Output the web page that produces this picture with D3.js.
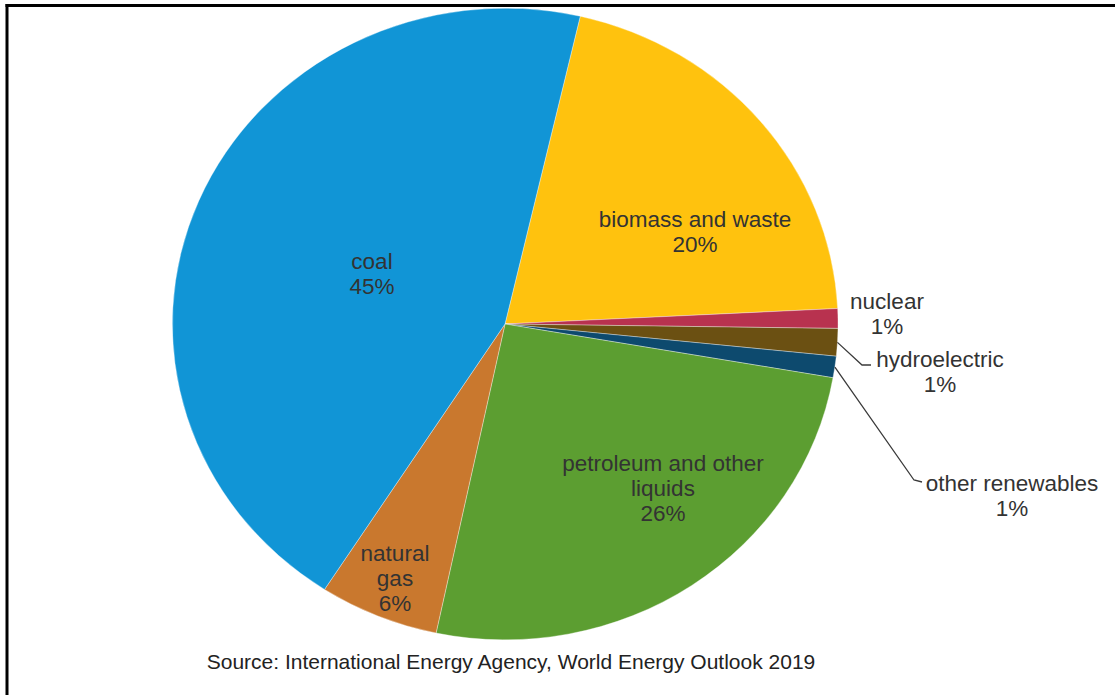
<!DOCTYPE html>
<html><head><meta charset="utf-8">
<script src="https://cdn.jsdelivr.net/npm/d3@7"></script>
<style>html,body{margin:0;padding:0;background:#fff;}svg{display:block;}</style>
</head><body>
<svg id="chart" width="1115" height="695"></svg>
<script>
// ---- data ----
const categories = ["biomass and waste","nuclear","hydroelectric","other renewables","petroleum and other liquids","natural gas","coal"];
const shares = [20.6, 1.0, 1.4, 1.1, 25.6, 5.8, 44.5];
const percentLabels = ["20%","1%","1%","1%","26%","6%","45%"];
const labelLines = [["biomass and waste"],["nuclear"],["hydroelectric"],["other renewables"],["petroleum and other","liquids"],["natural","gas"],["coal"]];
const colors = ["#FFC20E","#B8324F","#6B5012","#0D4A6E","#5C9E31","#C9782E","#1195D6"];
const sourceText = "Source: International Energy Agency,  World Energy Outlook 2019";

// ---- layout (not data) ----
const W = 1115, H = 695;
const cx = 505, cy = 324, rx = 333, ry = 316;
const startDeg = 13.05;
// label centers relative to pie center (pixels), and leader elbows for outside labels
const labelLayout = [
  {dx: 190, dy: -92},
  {dx: 382, dy: -10},
  {dx: 435, dy: 48},
  {dx: 507, dy: 172},
  {dx: 158, dy: 164},
  {dx: -110, dy: 254},
  {dx: -133, dy: -50}
];
const leaders = {2: [[862, 365],[871, 365]], 3: [[914, 480],[922, 482]]};
const lineGap = 25;
const fontFamily = "'Liberation Sans', Arial, sans-serif";

const svg = d3.select("#chart");

const pie = d3.pie().sort(null).value(d => d)
  .startAngle(startDeg * Math.PI/180).endAngle(startDeg * Math.PI/180 + 2*Math.PI);
const arcs = pie(shares);
const arc = d3.arc().innerRadius(0).outerRadius(1);

const g = svg.append("g").attr("transform", `translate(${cx},${cy}) scale(${rx},${ry})`);
g.selectAll("path").data(arcs).join("path")
  .attr("d", arc)
  .attr("fill", (d,i) => colors[i])
  .attr("stroke", "#fff")
  .attr("stroke-opacity", 0.5)
  .attr("stroke-width", 0.7)
  .attr("vector-effect", "non-scaling-stroke");

// leader lines
Object.keys(leaders).forEach(k => {
  const i = +k;
  const a = (arcs[i].startAngle + arcs[i].endAngle)/2;
  const p0 = [cx + rx*Math.sin(a), cy - ry*Math.cos(a)];
  const pts = [p0].concat(leaders[k]);
  svg.append("path")
    .attr("d", d3.line()(pts))
    .attr("fill","none").attr("stroke","#3a3a3a").attr("stroke-width",1.3);
});

// labels
arcs.forEach((d,i) => {
  const lines = labelLines[i].concat([percentLabels[i]]);
  const x = cx + labelLayout[i].dx, y = cy + labelLayout[i].dy;
  const n = lines.length;
  const t = svg.append("text")
    .attr("x", x).attr("y", y)
    .attr("text-anchor","middle")
    .attr("font-family", fontFamily)
    .attr("font-size", 22.5)
    .attr("fill", "#333");
  lines.forEach((s, j) => {
    t.append("tspan").attr("x", x)
      .attr("y", y + (j - (n-1)/2) * lineGap)
      .attr("dy", "0.35em")
      .text(s);
  });
});

// source
svg.append("text")
  .attr("x", 511).attr("y", 662).attr("dy","0.35em")
  .attr("text-anchor","middle")
  .attr("font-family", fontFamily)
  .attr("font-size", 21)
  .attr("fill", "#222")
  .text(sourceText);

// frame (top and left lines)
svg.append("line").attr("x1", 5.5).attr("x2", W).attr("y1", 5.5).attr("y2", 5.5)
  .attr("stroke","#000").attr("stroke-width",3);
svg.append("line").attr("x1", 7).attr("x2", 7).attr("y1", 4).attr("y2", H)
  .attr("stroke","#000").attr("stroke-width",3);
</script>
</body></html>
